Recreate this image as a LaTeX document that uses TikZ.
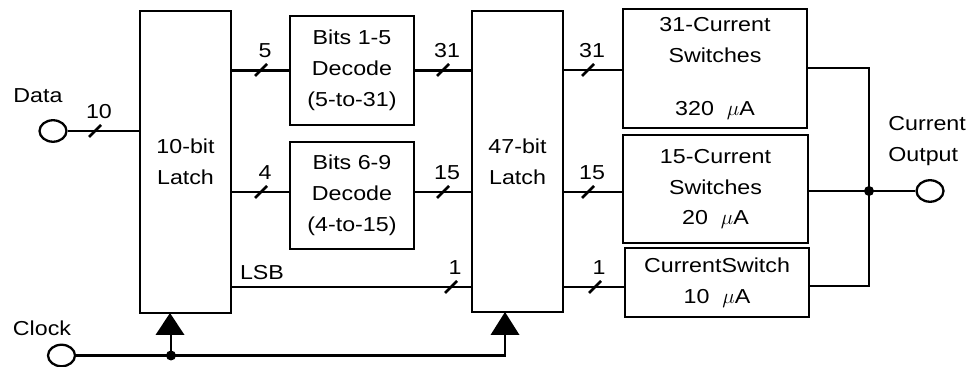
\documentclass[tikz,border=0pt]{standalone}
\usepackage{fontspec}
\setmainfont[FakeStretch=1.15]{Liberation Sans}
\usetikzlibrary{shapes.geometric}

\begin{document}
\begin{tikzpicture}[
    x=0.02cm, y=-0.02cm,
    font=\fontsize{11.5}{17.5}\selectfont,
    block/.style={draw=black, line width=1.5pt, align=center, inner sep=0pt},
    port/.style={draw=black, line width=1.3pt, ellipse, minimum width=0.54cm, minimum height=0.43cm, inner sep=0pt},
    dot/.style={circle, fill=black, inner sep=0pt, minimum size=0.2cm},
    wire/.style={line width=1.3pt},
    pics/bus/.style={code={
        \draw[line width=1.5pt] (-6,6) -- (6,-6);
        \node (-n) at (4,-19) {#1};
    }}
]
    \useasboundingbox (0,0) rectangle (969,367);

    % Latches
    \node[block, minimum width=1.82cm, minimum height=6.04cm] (latchA) at (185.5,162) {10-bit\\Latch};
    \node[block, minimum width=1.82cm, minimum height=6.02cm] (latchB) at (517.5,161.5) {47-bit\\Latch};

    % Decoders
    \node[block, minimum width=2.48cm, minimum height=2.18cm] (decA) at (352,70.5) {Bits 1-5\\Decode\\(5-to-31)};
    \node[block, minimum width=2.48cm, minimum height=2.14cm] (decB) at (352,195.5) {Bits 6-9\\Decode\\(4-to-15)};

    % Current switches
    \node[block, minimum width=3.68cm, minimum height=2.38cm] (swA) at (715,68.5) {31-Current\\Switches\\[12.5pt]320\ \ $\mu$A};
    \node[block, minimum width=3.7cm, minimum height=2.16cm] (swB) at (715.5,189) {15-Current\\Switches\\20\ \ $\mu$A};
    \node[block, minimum width=3.68cm, minimum height=1.38cm] (swC) at (717,282.5) {CurrentSwitch\\10\ \ $\mu$A};

    % Ports
    \node[port] (din) at (53,131) {};
    \node (dinL) at (38,96) {Data};
    \node[port] (clk) at (61.5,355.5) {};
    \node (clkL) at (42,328) {Clock};
    \node[port] (out) at (930,191) {};
    \node[align=left, anchor=west, inner sep=0pt] (outL) at (888,141) {Current\\Output};

    % Data path
    \draw[wire] (din.east) -- (din.east -| latchA.west);
    \draw[wire] (latchA.east |- decA.west) -- (decA.west);
    \draw[wire] (latchA.east |- 0,192) -- (decB.west |- 0,192);
    \draw[wire] (latchA.east |- 0,287) -- (latchB.west |- 0,287);
    \node (lsb) at (262,273) {LSB};
    \draw[wire] (decA.east) -- (decA.east -| latchB.west);
    \draw[wire] (decB.east |- 0,192) -- (latchB.west |- 0,192);
    \draw[wire] (latchB.east |- 0,70) -- (swA.west |- 0,70);
    \draw[wire] (latchB.east |- 0,192) -- (swB.west |- 0,192);
    \draw[wire] (latchB.east |- 0,287) -- (swC.west |- 0,287);

    % Bus widths
    \path (95,131) pic (b1) {bus=10};
    \path (261,70) pic (b2) {bus=5};
    \path (261,192) pic (b3) {bus=4};
    \path (443,70) pic (b4) {bus=31};
    \path (443,192) pic (b5) {bus=15};
    \path (451,287) pic (b6) {bus=1};
    \path (588,70) pic (b7) {bus=31};
    \path (588,192) pic (b8) {bus=15};
    \path (595,287) pic (b9) {bus=1};

    % Summing node
    \node[dot] (jn) at (869,191) {};
    \draw[wire] (swA.east |- 0,68) -| (jn.center);
    \draw[wire] (swC.east |- 0,286) -| (jn.center);
    \draw[wire] (swB.east |- jn) -- (jn.center) -- (out.west);

    % Clock triangles
    \coordinate (tA) at (170,313);
    \coordinate (tB) at (505,312);
    \fill (tA) -- ++(-14.5,22) -- ++(29,0) -- cycle;
    \fill (tB) -- ++(-14.5,23) -- ++(29,0) -- cycle;

    % Clock path
    \node[dot] (cj) at (171,355.5) {};
    \draw[wire] (clk.east) -- (clk.east -| tB) -- ([yshift=-0.46cm]tB);
    \draw[wire] (cj.center) -- ([yshift=-0.44cm]tA -| cj);
\end{tikzpicture}
\end{document}
